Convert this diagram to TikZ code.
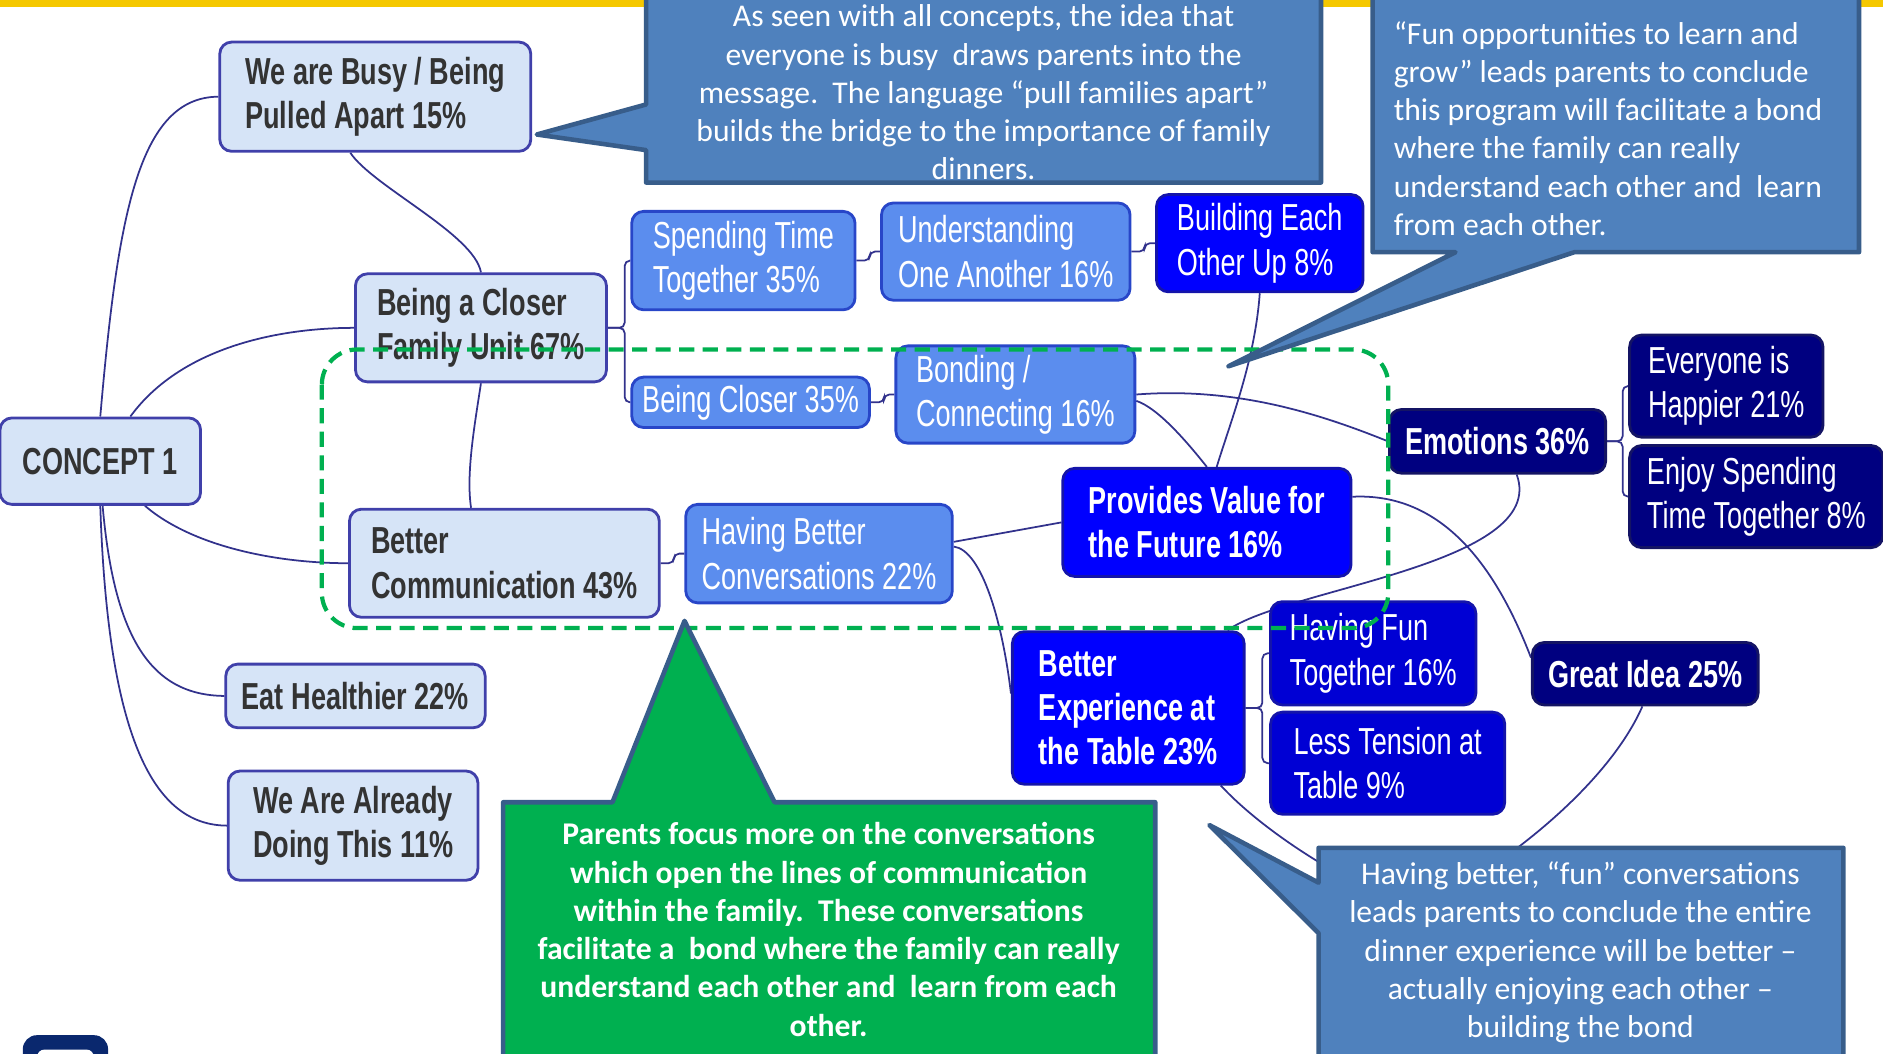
\documentclass[tikz,border=0pt]{standalone}
\usepackage{fontspec}
\setmainfont{Carlito}
\newfontfamily\nodefont[FakeStretch=0.72]{Liberation Sans}
\usetikzlibrary{positioning}
\pgfdeclarelayer{background}
\pgfsetlayers{background,main}

\definecolor{lightfill}{RGB}{214,228,247}
\definecolor{boxedge}{RGB}{64,64,170}
\definecolor{darktext}{RGB}{51,51,51}
\definecolor{midblue}{RGB}{91,141,238}
\definecolor{midedge}{RGB}{40,70,200}
\definecolor{brightblue}{RGB}{0,0,255}
\definecolor{funblue}{RGB}{0,0,212}
\definecolor{brightedge}{RGB}{20,20,170}
\definecolor{navyfill}{RGB}{0,0,128}
\definecolor{navyedge}{RGB}{20,20,100}
\definecolor{linkblue}{RGB}{50,50,140}
\definecolor{callfill}{RGB}{79,129,189}
\definecolor{calledge}{RGB}{56,93,138}
\definecolor{greenfill}{RGB}{0,176,80}
\definecolor{baryellow}{RGB}{245,200,0}
\definecolor{logonavy}{RGB}{10,40,110}

\newcommand\spx{0.012009cm}
\newcommand\boxfont{\nodefont\fontsize{10.7}{12.6}\selectfont}
\newcommand\callfont{\fontsize{9}{10.9}\selectfont}

\tikzset{
    box/.style={draw, rounded corners=3.4pt, line width=0.8pt, inner sep=0pt, align=left, font=\boxfont},
    light/.style={box, draw=boxedge, fill=lightfill, text=darktext, font=\boxfont\bfseries},
    mid/.style={box, draw=midedge, fill=midblue, text=white},
    bright/.style={box, draw=brightedge, fill=brightblue, text=white},
    fun/.style={box, draw=brightedge, fill=funblue, text=white},
    navy/.style={box, draw=navyedge, fill=navyfill, text=white},
    link/.style={draw=linkblue, line width=0.5pt},
    fork/.style={link, rounded corners=1.5pt},
    callout/.style={fill=callfill, draw=calledge, line width=1.3pt, line join=round},
    greencallout/.style={callout, fill=greenfill},
    calltext/.style={text=white, inner sep=0pt, font=\callfont},
}

\begin{document}
\begin{tikzpicture}[x=0.012009cm, y=-0.012009cm]
    \useasboundingbox (0,0) rectangle (1568,877);
    \fill[baryellow] (0,0) rectangle (1568,6);
    \fill[logonavy, rounded corners=4pt] (19,862) rectangle (90,895);
    \fill[white, rounded corners=2pt] (31,874) rectangle (78,895);

    \node[light, minimum width=167*\spx, minimum height=72*\spx]  (concept)    at (83.5,384)    {CONCEPT 1};
    \node[light, minimum width=259*\spx, minimum height=91*\spx]  (busy)       at (312.5,80.5)  {We are Busy / Being\\Pulled Apart 15\%};
    \node[light, minimum width=209*\spx, minimum height=90*\spx]  (closer)     at (400.5,273)   {Being a Closer\\Family Unit 67\%};
    \node[light, minimum width=258*\spx, minimum height=90*\spx]  (comm)       at (420,469)     {Better\\Communication 43\%};
    \node[light, minimum width=216*\spx, minimum height=53*\spx]  (healthy)    at (296,579.5)   {Eat Healthier 22\%};
    \node[light, minimum width=208*\spx, minimum height=91*\spx]  (already)    at (294,687.5)   {We Are Already\\Doing This 11\%};
    \node[mid, minimum width=186*\spx, minimum height=82*\spx]    (spend)      at (619,217)     {Spending Time\\Together 35\%};
    \node[mid, minimum width=207*\spx, minimum height=81*\spx]    (understand) at (837.5,209.5) {Understanding\\One Another 16\%};
    \node[bright, minimum width=172*\spx, minimum height=81*\spx] (build)      at (1049,202.5)  {Building Each\\Other Up 8\%};
    \node[mid, minimum width=198*\spx, minimum height=42*\spx]    (beclose)    at (625,335)     {Being Closer 35\%};
    \node[mid, minimum width=199*\spx, minimum height=81*\spx]    (bond)       at (845.5,328.5) {Bonding /\\Connecting 16\%};
    \node[mid, minimum width=222*\spx, minimum height=82*\spx]    (talk)       at (682,461)     {Having Better\\Conversations 22\%};
    \node[bright, minimum width=240*\spx, minimum height=90*\spx, font=\boxfont\bfseries]  (future)     at (1005,435)   {Provides Value for\\the Future 16\%};
    \node[bright, minimum width=193*\spx, minimum height=127*\spx, font=\boxfont\bfseries] (experience) at (939.5,589.5) {Better\\Experience at\\the Table 23\%};
    \node[fun, minimum width=171*\spx, minimum height=86*\spx]    (having fun) at (1143.5,544)  {Having Fun\\Together 16\%};
    \node[fun, minimum width=195*\spx, minimum height=85*\spx]    (tension)    at (1155.5,635.5) {Less Tension at\\Table 9\%};
    \node[navy, minimum width=180*\spx, minimum height=53*\spx, font=\boxfont\bfseries] (emotions) at (1247,367.5) {Emotions 36\%};
    \node[navy, minimum width=161*\spx, minimum height=85*\spx]   (happier)    at (1437.5,321.5) {Everyone is\\Happier 21\%};
    \node[navy, minimum width=211*\spx, minimum height=85*\spx]   (enjoy)      at (1462.5,413.5) {Enjoy Spending\\Time Together 8\%};
    \node[navy, minimum width=188*\spx, minimum height=52*\spx, font=\boxfont\bfseries] (idea) at (1370,561) {Great Idea 25\%};
    \coordinate (behind) at (1180,760);

    \begin{pgfonlayer}{background}
        \draw[link] (concept.north) .. controls (98,180) and (115,81) .. (busy.west);
        \draw[link] (concept.56) .. controls (150,290) and (230,273) .. (closer.west);
        \draw[link] (concept.-45) .. controls (160,455) and (230,469) .. (comm.west);
        \draw[link] (concept.-87) .. controls (95,530) and (125,579) .. (healthy.west);
        \draw[link] (concept.south) .. controls (90,620) and (130,687) .. (already.west);
        \draw[link] (busy.246) .. controls (310,155) and (395,195) .. (closer.north);
        \draw[link] (closer.south) .. controls (395,355) and (388,395) .. (comm.121);
        \draw[fork] (closer.east) -- ++(14,0) |- (spend.west);
        \draw[fork] (closer.east) -- ++(14,0) |- (beclose.west);
        \draw[fork] (spend.east) -- ++(11,0) |- (understand.west);
        \draw[fork] (understand.east) -- ++(11,0) |- (build.west);
        \draw[fork] (beclose.east) -- ++(11,0) |- (bond.west);
        \draw[fork] (comm.east) -- ++(11,0) |- (talk.west);
        \draw[fork] (experience.east) -- ++(14,0) |- (having fun.west);
        \draw[fork] (experience.east) -- ++(14,0) |- (tension.west);
        \draw[fork] (emotions.east) -- ++(13,0) |- (happier.west);
        \draw[fork] (emotions.east) -- ++(13,0) |- (enjoy.west);
        \draw[link] (build.south) .. controls (1045,300) and (1025,350) .. (future.80);
        \draw[link] (bond.east) .. controls (1030,322) and (1100,345) .. (emotions.west);
        \draw[link] (bond.-3) .. controls (965,340) and (990,370) .. (future.north);
        \draw[link] (talk.5) -- (future.west);
        \draw[link] (talk.3) .. controls (818,458) and (835,520) .. (experience.173);
        \draw[link] (emotions.-60) .. controls (1290,470) and (1070,490) .. (experience.38);
        \draw[link] (future.10) .. controls (1200,410) and (1245,470) .. (idea.172);
        \draw[link] (idea.-95) .. controls (1345,640) and (1280,705) .. (behind);
        \draw[link] (experience.-40) .. controls (1050,690) and (1110,730) .. (behind);
    \end{pgfonlayer}

    \draw[greenfill, line width=1.2pt, dash pattern=on 4.3pt off 2.4pt, rounded corners=10pt] (268,291) rectangle (1156,523);

    \path[callout] (538,-2) -- (1100,-2) -- (1100,152) -- (538,152) -- (538,125) -- (447,112) -- (538,87) -- cycle;
    \node[calltext, align=center] (top note) at (819,77)
        {As seen with all concepts, the idea that\\everyone is busy\ \ draws parents into the\\message.\ \ The language “pull families apart”\\builds the bridge to the importance of family\\dinners.};

    \path[callout] (1143,-2) -- (1548,-2) -- (1548,210) -- (1311,210) -- (1023,305) -- (1212,210) -- (1143,210) -- cycle;
    \node[calltext, align=left, anchor=west] (right note) at (1160,107)
        {“Fun opportunities to learn and\\grow” leads parents to conclude\\this program will facilitate a bond\\where the family can really\\understand each other and\ \ learn\\from each other.};

    \path[callout] (1098,706) -- (1535,706) -- (1535,880) -- (1098,880) -- (1098,777) -- (1007,687) -- (1098,735) -- cycle;
    \node[calltext, align=center] (bottom note) at (1316,793)
        {Having better, “fun” conversations\\leads parents to conclude the entire\\dinner experience will be better –\\actually enjoying each other –\\building the bond};

    \path[greencallout] (419,668) -- (510,668) -- (570,517) -- (645,668) -- (962,668) -- (962,880) -- (419,880) -- cycle;
    \node[calltext, align=center, font=\callfont\bfseries] (green note) at (690,774)
        {Parents focus more on the conversations\\which open the lines of communication\\within the family.\ \ These conversations\\facilitate a\ \ bond where the family can really\\understand each other and\ \ learn from each\\other.};
\end{tikzpicture}
\end{document}
